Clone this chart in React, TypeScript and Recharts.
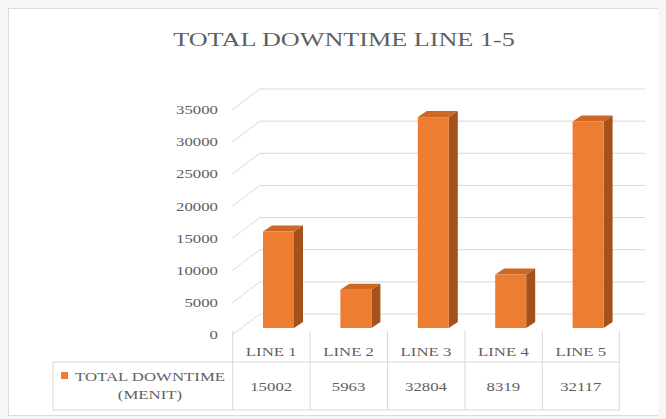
import React from 'react';
import { BarChart, Bar, XAxis, YAxis, CartesianGrid } from 'recharts';

const categories = ['LINE 1', 'LINE 2', 'LINE 3', 'LINE 4', 'LINE 5'];
const downtime = [15002, 5963, 32804, 8319, 32117];
const yTicks = [0, 5000, 10000, 15000, 20000, 25000, 30000, 35000];
const seriesLabel = ['TOTAL DOWNTIME', '(MENIT)'];
const title = 'TOTAL DOWNTIME LINE 1-5';

const data = categories.map((c, i) => ({ name: c, value: downtime[i] }));

const FONT = '"Liberation Serif", "Times New Roman", serif';
const TXT = '#5f5f5f';
const GRID = '#d9d9d9';
const SX = 1.4;
const FRONT = '#ED7D31';
const TOP = '#CC6824';
const SIDE = '#A4511B';
const DEPTH_X = 9;
const DEPTH_Y = 6;
const COL_W = 77;

const STxt = ({ x, y, anchor = 'middle', size = 12, children, fill = TXT }: any) => (
  <g transform={`translate(${x},${y}) scale(${SX},1)`}>
    <text x={0} y={0} dy="0.35em" textAnchor={anchor} fontFamily={FONT} fontSize={size} fill={fill}>
      {children}
    </text>
  </g>
);

const Bar3D = (props: any) => {
  const { x, y, width: w, height: h } = props;
  if (h == null || w == null) return null;
  const dx = DEPTH_X, dy = DEPTH_Y;
  return (
    <g>
      <polygon points={`${x + w},${y} ${x + w + dx},${y - dy} ${x + w + dx},${y + h - dy} ${x + w},${y + h}`} fill={SIDE} />
      <polygon points={`${x},${y} ${x + dx},${y - dy} ${x + w + dx},${y - dy} ${x + w},${y}`} fill={TOP} />
      <rect x={x} y={y} width={w} height={h} fill={FRONT} />
    </g>
  );
};

const GridLine = (props: any) => {
  const { x1, x2, y1 } = props;
  return (
    <g key={props.key ?? `${y1}`}>
      <line x1={x1 - 8} y1={y1 + 7} x2={x1 + 20} y2={y1 - 14} stroke={GRID} strokeWidth={1} />
      <line x1={x1 + 20} y1={y1 - 14} x2={x2 + 18} y2={y1 - 14} stroke={GRID} strokeWidth={1} />
    </g>
  );
};

const YTick = (props: any) => {
  const { x, y, payload } = props;
  return <STxt x={x} y={y + 7} anchor="end" size={12}>{payload.value}</STxt>;
};

const XTick = (props: any) => {
  const { x, y, payload } = props;
  const i = categories.indexOf(payload.value);
  const cx = x - 7.5;
  const left = cx - COL_W / 2;
  const right = cx + COL_W / 2;
  return (
    <g>
      <line x1={left} y1={y + 3} x2={left} y2={y + 82} stroke={GRID} />
      {i === categories.length - 1 && <line x1={right} y1={y + 3} x2={right} y2={y + 82} stroke={GRID} />}
      <line x1={left} y1={y + 34} x2={right} y2={y + 34} stroke={GRID} />
      <line x1={left} y1={y + 82} x2={right} y2={y + 82} stroke={GRID} />
      <STxt x={cx} y={y + 24} size={12}>{payload.value}</STxt>
      <STxt x={cx} y={y + 59} size={12}>{downtime[i]}</STxt>
      {i === 0 && (
        <g>
          <line x1={44} y1={y + 34} x2={left} y2={y + 34} stroke={GRID} />
          <line x1={44} y1={y + 82} x2={left} y2={y + 82} stroke={GRID} />
          <line x1={44} y1={y + 34} x2={44} y2={y + 82} stroke={GRID} />
          <rect x={52} y={y + 44} width={7} height={7} fill={FRONT} />
          <STxt x={141} y={y + 49} size={12}>{seriesLabel[0]}</STxt>
          <STxt x={141} y={y + 67} size={12}>{seriesLabel[1]}</STxt>
        </g>
      )}
    </g>
  );
};

export default function App() {
  return (
    <div
      style={{
        position: 'relative',
        width: 658,
        height: 408,
        boxSizing: 'border-box',
        borderTop: '1px solid #dcdcdc',
        borderLeft: '1px solid #dcdcdc',
        borderBottom: '1px solid #dcdcdc',
        background: '#fff',
      }}
    >
      <style>{'body{background:#f7f7fa}'}</style>
      <div
        style={{
          position: 'absolute',
          left: 0,
          top: 19,
          width: 670,
          textAlign: 'center',
          lineHeight: '24px',
          fontFamily: FONT,
          fontSize: 18.7,
          color: TXT,
          pointerEvents: 'none',
          zIndex: 2,
        }}
      >
        <span style={{ display: 'inline-block', transform: `scaleX(${SX})` }}>{title}</span>
      </div>
      <BarChart
        width={657}
        height={406}
        data={data}
        margin={{ top: 94, right: 39, bottom: 0, left: 171 }}
        barSize={31}
      >
        <CartesianGrid vertical={false} horizontal={GridLine} />
        <YAxis
          width={60}
          type="number"
          domain={[0, 35000]}
          ticks={yTicks}
          interval={0}
          axisLine={false}
          tickLine={false}
          tickSize={0}
          tickMargin={22}
          tick={YTick}
        />
        <XAxis
          dataKey="name"
          height={87}
          interval={0}
          axisLine={false}
          tickLine={false}
          tickSize={0}
          tickMargin={0}
          tick={XTick}
        />
        <Bar dataKey="value" shape={Bar3D} isAnimationActive={false} />
      </BarChart>
    </div>
  );
}
